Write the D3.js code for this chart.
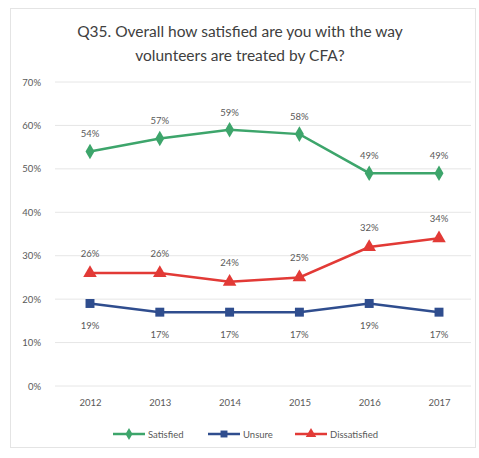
<!DOCTYPE html>
<html><head><meta charset="utf-8">
<script src="https://cdn.jsdelivr.net/npm/d3@7"></script>
<style>body{margin:0;background:#fff}text{font-family:Lato,"Open Sans",sans-serif}</style>
</head><body><svg id="c" width="479" height="458"></svg>
<script>
const years = ["2012","2013","2014","2015","2016","2017"];
const satisfied = [54,57,59,58,49,49];
const unsure = [19,17,17,17,19,17];
const dissatisfied = [26,26,24,25,32,34];
const yTicks = [0,10,20,30,40,50,60,70];
const seriesNames = ["Satisfied","Unsure","Dissatisfied"];
const title = ["Q35. Overall how satisfied are you with the way","volunteers are treated by CFA?"];

const svg = d3.select("#c");
svg.append("rect").attr("x",10.5).attr("y",8.5).attr("width",465).attr("height",439)
  .attr("fill","#fff").attr("stroke","#e4e4e4");

svg.selectAll("text.title").data(title).enter().append("text")
  .attr("x",240).attr("y",(d,i)=>37+i*24).attr("text-anchor","middle")
  .attr("font-size",15.5).attr("fill","#404040").text(d=>d);

const x = d3.scalePoint().domain(years).range([90,439]);
const y = d3.scaleLinear().domain([0,70]).range([386,82]);

const g = svg.append("g");
g.selectAll("line.grid").data(yTicks).enter().append("line")
  .attr("x1",55).attr("x2",471).attr("y1",d=>y(d)).attr("y2",d=>y(d))
  .attr("stroke","#e6e6e6").attr("stroke-width",1);

const yAxis = d3.axisLeft(y).tickValues(yTicks).tickFormat(d=>d+"%").tickSize(0).tickPadding(0);
const ya = svg.append("g").attr("transform","translate(41,0)").call(yAxis);
ya.select(".domain").remove();
ya.selectAll("text").attr("font-size",9.5).attr("fill","#595959").attr("font-family","Lato");

const xAxis = d3.axisBottom(x).tickSize(0).tickPadding(0);
const xa = svg.append("g").attr("transform","translate(0,399)").call(xAxis);
xa.select(".domain").remove();
xa.selectAll("text").attr("font-size",9.5).attr("fill","#595959").attr("font-family","Lato");

const series = [
  {name:seriesNames[0], vals:satisfied, color:"#3da56b", sym:d3.symbolDiamond, size:70, dy:-14},
  {name:seriesNames[1], vals:unsure, color:"#2f4d8e", sym:d3.symbolSquare, size:80, dy:26},
  {name:seriesNames[2], vals:dissatisfied, color:"#e23a36", sym:d3.symbolTriangle, size:80, dy:-16}
];
const line = d3.line().x((d,i)=>x(years[i])).y(d=>y(d));
series.forEach(s=>{
  g.append("path").attr("d",line(s.vals)).attr("fill","none").attr("stroke",s.color).attr("stroke-width",2.5);
  g.selectAll(null).data(s.vals).enter().append("path")
    .attr("d",d3.symbol().type(s.sym).size(s.size))
    .attr("transform",(d,i)=>`translate(${x(years[i])},${y(d)})`)
    .attr("fill",s.color);
  g.selectAll(null).data(s.vals).enter().append("text")
    .attr("x",(d,i)=>x(years[i])).attr("y",d=>y(d)+s.dy)
    .attr("text-anchor","middle").attr("font-size",9.5).attr("fill","#595959")
    .text(d=>d+"%");
});

const legX = [113,208,295];
const leg = svg.append("g");
series.forEach((s,i)=>{
  const lx = legX[i];
  leg.append("line").attr("x1",lx).attr("x2",lx+32).attr("y1",434).attr("y2",434)
    .attr("stroke",s.color).attr("stroke-width",2.5);
  leg.append("path").attr("d",d3.symbol().type(s.sym).size(s.size*0.6))
    .attr("transform",`translate(${lx+16},434)`).attr("fill",s.color);
  leg.append("text").attr("x",lx+35).attr("y",437.5).attr("font-size",9.5)
    .attr("fill","#595959").text(s.name);
});
</script></body></html>
